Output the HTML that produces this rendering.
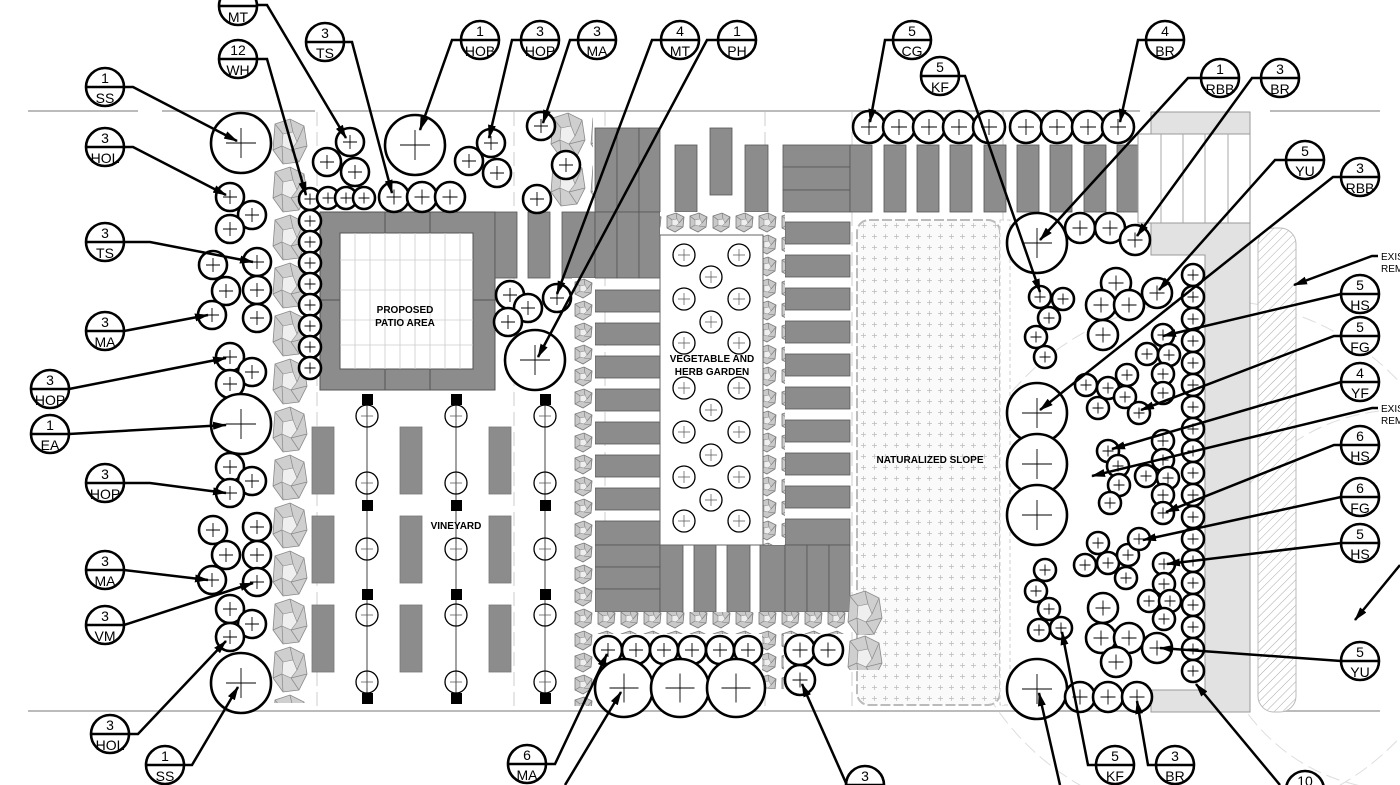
<!DOCTYPE html>
<html><head><meta charset="utf-8"><style>
html,body{margin:0;padding:0;background:#fff;width:1400px;height:785px;overflow:hidden}
svg{display:block;font-family:"Liberation Sans",Arial,sans-serif}
</style></head><body>
<svg width="1400" height="785" viewBox="0 0 1400 785" xmlns="http://www.w3.org/2000/svg">
<defs>
<g id="pl"><circle r="1" fill="#fff" stroke="#000" stroke-width="2.6" vector-effect="non-scaling-stroke"/><path d="M-0.5 0H0.5M0 -0.5V0.5" stroke="#000" stroke-width="0.9" vector-effect="non-scaling-stroke"/></g>
<g id="vc"><circle r="1" fill="none" stroke="#000" stroke-width="1.3" vector-effect="non-scaling-stroke"/><path d="M-0.55 0H0.55M0 -0.55V0.55" stroke="#555" stroke-width="0.7" vector-effect="non-scaling-stroke"/></g>
<marker id="ar" markerWidth="14" markerHeight="8" refX="13" refY="4" orient="auto" markerUnits="userSpaceOnUse"><path d="M0 0L14 4L0 8z" fill="#000"/></marker>
<pattern id="shr" x="572" y="212" width="23" height="22" patternUnits="userSpaceOnUse"><rect width="23" height="22" fill="#fff"/><polygon points="3,4 12,1 20,5 19,15 11,20 3,16" fill="#c9c9c9" stroke="#777" stroke-width="0.8"/><polygon points="8,8 13,7 15,11 12,14 8,13" fill="#eee" stroke="#888" stroke-width="0.5"/><path d="M3 4L8 8M12 1L13 7M20 5L15 11M19 15L12 14M3 16L8 13" stroke="#777" stroke-width="0.6"/></pattern>
<g id="blob"><polygon points="5,6 20,1 34,8 37,28 29,44 13,46 3,32" fill="#cfcfcf" stroke="#888" stroke-width="0.8"/><polygon points="13,16 23,14 27,24 21,32 12,28" fill="#efefef" stroke="#888" stroke-width="0.6"/><path d="M5 6L13 16M20 1L23 14M34 8L27 24M37 28L21 32M29 44L21 32M13 46L12 28M3 32L12 28" stroke="#888" stroke-width="0.7"/></g>
<pattern id="bigA" x="270" y="118" width="40" height="48" patternUnits="userSpaceOnUse"><use href="#blob"/></pattern>
<pattern id="bigB" x="548" y="112" width="40" height="48" patternUnits="userSpaceOnUse"><use href="#blob"/></pattern>
<pattern id="bigC" x="845" y="590" width="40" height="45" patternUnits="userSpaceOnUse"><use href="#blob"/></pattern>
<pattern id="dots" width="11" height="11" patternUnits="userSpaceOnUse"><rect width="11" height="11" fill="#fafafa"/><path d="M3 5.5H8M5.5 3V8" stroke="#bbb" stroke-width="0.7"/></pattern>
<pattern id="hat" width="6" height="6" patternUnits="userSpaceOnUse" patternTransform="rotate(45)"><rect width="6" height="6" fill="#fff"/><path d="M0 0V6" stroke="#aaa" stroke-width="1"/></pattern>
</defs>

<g stroke="#bbb" stroke-width="2">
<path d="M28 111H138M162 111H315M330 111H1140M1270 111H1380"/>
<path d="M28 711H1140M1270 711H1380"/>
</g>
<g stroke="#ccc" stroke-width="1" stroke-dasharray="14 6" fill="none">
<path d="M317 112V710M514 112V710M605 112V710M765 112V710M852 112V710M1003 112V710"/>
<circle cx="1210" cy="560" r="260" stroke="#ddd"/>
<circle cx="1400" cy="600" r="190" stroke="#ddd"/>
</g>

<rect x="270" y="118" width="40" height="585" fill="url(#bigA)"/>
<rect x="548" y="112" width="45" height="96" fill="url(#bigB)"/>

<rect x="320" y="212" width="175" height="178" fill="#8c8c8c" stroke="#555"/>
<rect x="340" y="233" width="133" height="136" fill="#fff" stroke="#555"/>
<g stroke="#ccc" stroke-width="0.8">
<path d="M355 233V369M370 233V369M385 233V369M400 233V369M415 233V369M430 233V369M445 233V369M460 233V369"/>
<path d="M340 260H473M340 290H473M340 320H473M340 345H473"/>
</g>
<path d="M385 212V233M430 212V233M385 369V390M430 369V390M320 300H340M473 300H495" stroke="#555"/>
<text x="405" y="313" font-size="10" font-weight="bold" text-anchor="middle">PROPOSED</text>
<text x="405" y="326" font-size="10" font-weight="bold" text-anchor="middle">PATIO AREA</text>

<g fill="#8c8c8c" stroke="#555" stroke-width="0.8">
<rect x="495" y="212" width="22" height="66"/><rect x="528" y="212" width="22" height="66"/><rect x="562" y="212" width="33" height="66"/>
<rect x="595" y="128" width="22" height="84"/><rect x="617" y="128" width="22" height="84"/><rect x="639" y="128" width="21" height="84"/>
<rect x="595" y="212" width="22" height="66"/><rect x="617" y="212" width="22" height="66"/><rect x="639" y="212" width="21" height="66"/>
<rect x="675" y="145" width="22" height="67"/><rect x="710" y="128" width="22" height="67"/><rect x="745" y="145" width="23" height="67"/>
<rect x="783" y="145" width="67" height="22"/><rect x="783" y="167" width="67" height="23"/><rect x="783" y="190" width="67" height="22"/>
<rect x="850" y="145" width="22" height="67"/><rect x="884" y="145" width="22" height="67"/><rect x="917" y="145" width="22" height="67"/><rect x="950" y="145" width="22" height="67"/><rect x="984" y="145" width="22" height="67"/><rect x="1017" y="145" width="22" height="67"/><rect x="1050" y="145" width="22" height="67"/><rect x="1084" y="145" width="22" height="67"/><rect x="1117" y="145" width="22" height="67"/>
<rect x="595" y="290" width="65" height="22"/><rect x="595" y="323" width="65" height="22"/><rect x="595" y="356" width="65" height="22"/><rect x="595" y="389" width="65" height="22"/><rect x="595" y="422" width="65" height="22"/><rect x="595" y="455" width="65" height="22"/><rect x="595" y="488" width="65" height="22"/><rect x="595" y="521" width="65" height="24"/>
<rect x="785" y="222" width="65" height="22"/><rect x="785" y="255" width="65" height="22"/><rect x="785" y="288" width="65" height="22"/><rect x="785" y="321" width="65" height="22"/><rect x="785" y="354" width="65" height="22"/><rect x="785" y="387" width="65" height="22"/><rect x="785" y="420" width="65" height="22"/><rect x="785" y="453" width="65" height="22"/><rect x="785" y="486" width="65" height="22"/><rect x="785" y="519" width="65" height="26"/>
<rect x="595" y="545" width="65" height="22"/><rect x="595" y="567" width="65" height="22"/><rect x="595" y="589" width="65" height="23"/>
<rect x="660" y="545" width="23" height="67"/><rect x="694" y="545" width="22" height="67"/><rect x="727" y="545" width="23" height="67"/><rect x="760" y="545" width="25" height="67"/><rect x="785" y="545" width="22" height="67"/><rect x="807" y="545" width="22" height="67"/><rect x="829" y="545" width="21" height="67"/>
</g>

<rect x="660" y="212" width="125" height="23" fill="url(#shr)"/>
<rect x="763" y="212" width="22" height="333" fill="url(#shr)"/>
<rect x="572" y="278" width="23" height="428" fill="url(#shr)"/>
<rect x="595" y="612" width="255" height="22" fill="url(#shr)"/>
<rect x="762" y="634" width="22" height="55" fill="url(#shr)"/>
<rect x="660" y="235" width="103" height="310" fill="#fff" stroke="#666"/>
<text x="712" y="362" font-size="10" font-weight="bold" text-anchor="middle">VEGETABLE AND</text>
<text x="712" y="375" font-size="10" font-weight="bold" text-anchor="middle">HERB GARDEN</text>
<g>
<use href="#vc" transform="translate(684,255) scale(11)"/><use href="#vc" transform="translate(739,255) scale(11)"/>
<use href="#vc" transform="translate(711,277) scale(11)"/>
<use href="#vc" transform="translate(684,299) scale(11)"/><use href="#vc" transform="translate(739,299) scale(11)"/>
<use href="#vc" transform="translate(711,322) scale(11)"/>
<use href="#vc" transform="translate(684,343) scale(11)"/><use href="#vc" transform="translate(739,343) scale(11)"/>
<use href="#vc" transform="translate(684,388) scale(11)"/><use href="#vc" transform="translate(739,388) scale(11)"/>
<use href="#vc" transform="translate(711,410) scale(11)"/>
<use href="#vc" transform="translate(684,432) scale(11)"/><use href="#vc" transform="translate(739,432) scale(11)"/>
<use href="#vc" transform="translate(711,455) scale(11)"/>
<use href="#vc" transform="translate(684,477) scale(11)"/><use href="#vc" transform="translate(739,477) scale(11)"/>
<use href="#vc" transform="translate(711,500) scale(11)"/>
<use href="#vc" transform="translate(684,521) scale(11)"/><use href="#vc" transform="translate(739,521) scale(11)"/>
</g>

<rect x="857" y="220" width="143" height="485" rx="12" fill="url(#dots)" stroke="#bbb" stroke-width="2" stroke-dasharray="10 3"/>
<rect x="845" y="590" width="40" height="80" fill="url(#bigC)"/>
<text x="930" y="463" font-size="10" font-weight="bold" text-anchor="middle">NATURALIZED SLOPE</text>

<g fill="#8c8c8c" stroke="#777" stroke-width="0.8">
<rect x="312" y="427" width="22" height="67"/><rect x="400" y="427" width="22" height="67"/><rect x="489" y="427" width="22" height="67"/>
<rect x="312" y="516" width="22" height="67"/><rect x="400" y="516" width="22" height="67"/><rect x="489" y="516" width="22" height="67"/>
<rect x="312" y="605" width="22" height="67"/><rect x="400" y="605" width="22" height="67"/><rect x="489" y="605" width="22" height="67"/>
</g>
<path d="M367 400V700M456 400V700M545 400V700" stroke="#444" stroke-width="1"/>
<g fill="#000">
<rect x="362" y="394" width="11" height="11"/><rect x="451" y="394" width="11" height="11"/><rect x="540" y="394" width="11" height="11"/>
<rect x="362" y="500" width="11" height="11"/><rect x="451" y="500" width="11" height="11"/><rect x="540" y="500" width="11" height="11"/>
<rect x="362" y="589" width="11" height="11"/><rect x="451" y="589" width="11" height="11"/><rect x="540" y="589" width="11" height="11"/>
<rect x="362" y="693" width="11" height="11"/><rect x="451" y="693" width="11" height="11"/><rect x="540" y="693" width="11" height="11"/>
</g>
<g>
<use href="#vc" transform="translate(367,416) scale(11)"/><use href="#vc" transform="translate(456,416) scale(11)"/><use href="#vc" transform="translate(545,416) scale(11)"/>
<use href="#vc" transform="translate(367,483) scale(11)"/><use href="#vc" transform="translate(456,483) scale(11)"/><use href="#vc" transform="translate(545,483) scale(11)"/>
<use href="#vc" transform="translate(367,549) scale(11)"/><use href="#vc" transform="translate(456,549) scale(11)"/><use href="#vc" transform="translate(545,549) scale(11)"/>
<use href="#vc" transform="translate(367,615) scale(11)"/><use href="#vc" transform="translate(456,615) scale(11)"/><use href="#vc" transform="translate(545,615) scale(11)"/>
<use href="#vc" transform="translate(367,682) scale(11)"/><use href="#vc" transform="translate(456,682) scale(11)"/><use href="#vc" transform="translate(545,682) scale(11)"/>
</g>
<text x="456" y="529" font-size="10" font-weight="bold" text-anchor="middle">VINEYARD</text>

<rect x="1151" y="112" width="99" height="22" fill="#e2e2e2" stroke="#999"/>
<rect x="1138" y="134" width="112" height="89" fill="#fff" stroke="#999"/>
<path d="M1161 134V223M1183 134V223M1205 134V223M1228 134V223" stroke="#aaa"/>
<path d="M1151 223H1250V712H1151V690H1205V255H1151Z" fill="#e2e2e2" stroke="#999"/>
<rect x="1258" y="228" width="38" height="484" rx="16" fill="url(#hat)" stroke="#bbb"/>
<rect x="1000" y="220" width="10" height="485" fill="#fff" stroke="#ccc" stroke-dasharray="4 3"/>

<g>
<use href="#pl" transform="translate(241,143) scale(30)"/>
<use href="#pl" transform="translate(230,197) scale(14)"/><use href="#pl" transform="translate(252,215) scale(14)"/><use href="#pl" transform="translate(230,229) scale(14)"/>
<use href="#pl" transform="translate(213,265) scale(14)"/><use href="#pl" transform="translate(257,262) scale(14)"/><use href="#pl" transform="translate(226,291) scale(14)"/><use href="#pl" transform="translate(257,290) scale(14)"/><use href="#pl" transform="translate(212,315) scale(14)"/><use href="#pl" transform="translate(257,318) scale(14)"/>
<use href="#pl" transform="translate(230,357) scale(14)"/><use href="#pl" transform="translate(252,372) scale(14)"/><use href="#pl" transform="translate(230,384) scale(14)"/>
<use href="#pl" transform="translate(241,424) scale(30)"/>
<use href="#pl" transform="translate(230,467) scale(14)"/><use href="#pl" transform="translate(252,481) scale(14)"/><use href="#pl" transform="translate(230,493) scale(14)"/>
<use href="#pl" transform="translate(213,530) scale(14)"/><use href="#pl" transform="translate(257,527) scale(14)"/><use href="#pl" transform="translate(226,555) scale(14)"/><use href="#pl" transform="translate(257,555) scale(14)"/><use href="#pl" transform="translate(212,580) scale(14)"/><use href="#pl" transform="translate(257,582) scale(14)"/>
<use href="#pl" transform="translate(230,609) scale(14)"/><use href="#pl" transform="translate(252,624) scale(14)"/><use href="#pl" transform="translate(230,637) scale(14)"/>
<use href="#pl" transform="translate(241,683) scale(30)"/>

<use href="#pl" transform="translate(310,199) scale(11)"/><use href="#pl" transform="translate(310,221) scale(11)"/><use href="#pl" transform="translate(310,242) scale(11)"/><use href="#pl" transform="translate(310,263) scale(11)"/><use href="#pl" transform="translate(310,284) scale(11)"/><use href="#pl" transform="translate(310,305) scale(11)"/><use href="#pl" transform="translate(310,326) scale(11)"/><use href="#pl" transform="translate(310,347) scale(11)"/><use href="#pl" transform="translate(310,368) scale(11)"/>
<use href="#pl" transform="translate(328,198) scale(11)"/><use href="#pl" transform="translate(346,198) scale(11)"/><use href="#pl" transform="translate(364,198) scale(11)"/>
<use href="#pl" transform="translate(350,142) scale(14)"/><use href="#pl" transform="translate(327,162) scale(14)"/><use href="#pl" transform="translate(355,172) scale(14)"/>
<use href="#pl" transform="translate(394,197) scale(15)"/><use href="#pl" transform="translate(422,197) scale(15)"/><use href="#pl" transform="translate(450,197) scale(15)"/>
<use href="#pl" transform="translate(415,145) scale(30)"/>
<use href="#pl" transform="translate(491,143) scale(14)"/><use href="#pl" transform="translate(469,161) scale(14)"/><use href="#pl" transform="translate(497,173) scale(14)"/>
<use href="#pl" transform="translate(541,126) scale(14)"/><use href="#pl" transform="translate(566,165) scale(14)"/><use href="#pl" transform="translate(537,199) scale(14)"/>
<use href="#pl" transform="translate(510,295) scale(14)"/><use href="#pl" transform="translate(528,308) scale(14)"/><use href="#pl" transform="translate(508,322) scale(14)"/><use href="#pl" transform="translate(557,298) scale(14)"/>
<use href="#pl" transform="translate(535,360) scale(30)"/>

<use href="#pl" transform="translate(608,650) scale(14)"/><use href="#pl" transform="translate(636,650) scale(14)"/><use href="#pl" transform="translate(664,650) scale(14)"/><use href="#pl" transform="translate(692,650) scale(14)"/><use href="#pl" transform="translate(720,650) scale(14)"/><use href="#pl" transform="translate(748,650) scale(14)"/>
<use href="#pl" transform="translate(624,688) scale(29)"/><use href="#pl" transform="translate(680,688) scale(29)"/><use href="#pl" transform="translate(736,688) scale(29)"/>
<use href="#pl" transform="translate(800,650) scale(15)"/><use href="#pl" transform="translate(828,650) scale(15)"/><use href="#pl" transform="translate(800,680) scale(15)"/>

<use href="#pl" transform="translate(869,127) scale(16)"/><use href="#pl" transform="translate(899,127) scale(16)"/><use href="#pl" transform="translate(929,127) scale(16)"/><use href="#pl" transform="translate(959,127) scale(16)"/><use href="#pl" transform="translate(989,127) scale(16)"/>
<use href="#pl" transform="translate(1026,127) scale(16)"/><use href="#pl" transform="translate(1057,127) scale(16)"/><use href="#pl" transform="translate(1088,127) scale(16)"/><use href="#pl" transform="translate(1118,127) scale(16)"/>

<use href="#pl" transform="translate(1037,243) scale(30)"/>
<use href="#pl" transform="translate(1080,228) scale(15)"/><use href="#pl" transform="translate(1110,228) scale(15)"/><use href="#pl" transform="translate(1135,240) scale(15)"/>
<use href="#pl" transform="translate(1040,297) scale(11)"/><use href="#pl" transform="translate(1063,299) scale(11)"/><use href="#pl" transform="translate(1049,318) scale(11)"/><use href="#pl" transform="translate(1036,337) scale(11)"/><use href="#pl" transform="translate(1045,357) scale(11)"/>
<use href="#pl" transform="translate(1116,283) scale(15)"/><use href="#pl" transform="translate(1101,305) scale(15)"/><use href="#pl" transform="translate(1129,305) scale(15)"/><use href="#pl" transform="translate(1103,335) scale(15)"/><use href="#pl" transform="translate(1157,293) scale(15)"/>

<use href="#pl" transform="translate(1193,275) scale(11)"/><use href="#pl" transform="translate(1193,297) scale(11)"/><use href="#pl" transform="translate(1193,319) scale(11)"/><use href="#pl" transform="translate(1193,341) scale(11)"/><use href="#pl" transform="translate(1193,363) scale(11)"/><use href="#pl" transform="translate(1193,385) scale(11)"/><use href="#pl" transform="translate(1193,407) scale(11)"/><use href="#pl" transform="translate(1193,429) scale(11)"/><use href="#pl" transform="translate(1193,451) scale(11)"/><use href="#pl" transform="translate(1193,473) scale(11)"/><use href="#pl" transform="translate(1193,495) scale(11)"/><use href="#pl" transform="translate(1193,517) scale(11)"/><use href="#pl" transform="translate(1193,539) scale(11)"/><use href="#pl" transform="translate(1193,561) scale(11)"/><use href="#pl" transform="translate(1193,583) scale(11)"/><use href="#pl" transform="translate(1193,605) scale(11)"/><use href="#pl" transform="translate(1193,627) scale(11)"/><use href="#pl" transform="translate(1193,649) scale(11)"/><use href="#pl" transform="translate(1193,671) scale(11)"/>

<use href="#pl" transform="translate(1163,335) scale(11)"/><use href="#pl" transform="translate(1147,354) scale(11)"/><use href="#pl" transform="translate(1169,355) scale(11)"/><use href="#pl" transform="translate(1163,374) scale(11)"/><use href="#pl" transform="translate(1163,393) scale(11)"/>
<use href="#pl" transform="translate(1086,385) scale(11)"/><use href="#pl" transform="translate(1108,388) scale(11)"/><use href="#pl" transform="translate(1127,375) scale(11)"/><use href="#pl" transform="translate(1098,408) scale(11)"/><use href="#pl" transform="translate(1125,397) scale(11)"/><use href="#pl" transform="translate(1139,413) scale(11)"/>
<use href="#pl" transform="translate(1037,413) scale(30)"/><use href="#pl" transform="translate(1037,464) scale(30)"/><use href="#pl" transform="translate(1037,515) scale(30)"/>
<use href="#pl" transform="translate(1108,451) scale(11)"/><use href="#pl" transform="translate(1118,466) scale(11)"/><use href="#pl" transform="translate(1119,485) scale(11)"/><use href="#pl" transform="translate(1110,503) scale(11)"/>
<use href="#pl" transform="translate(1163,441) scale(11)"/><use href="#pl" transform="translate(1163,460) scale(11)"/><use href="#pl" transform="translate(1146,476) scale(11)"/><use href="#pl" transform="translate(1168,478) scale(11)"/><use href="#pl" transform="translate(1163,495) scale(11)"/><use href="#pl" transform="translate(1163,513) scale(11)"/>
<use href="#pl" transform="translate(1098,543) scale(11)"/><use href="#pl" transform="translate(1108,563) scale(11)"/><use href="#pl" transform="translate(1128,555) scale(11)"/><use href="#pl" transform="translate(1085,565) scale(11)"/><use href="#pl" transform="translate(1126,578) scale(11)"/><use href="#pl" transform="translate(1139,539) scale(11)"/>
<use href="#pl" transform="translate(1164,564) scale(11)"/><use href="#pl" transform="translate(1164,584) scale(11)"/><use href="#pl" transform="translate(1149,601) scale(11)"/><use href="#pl" transform="translate(1170,601) scale(11)"/><use href="#pl" transform="translate(1164,619) scale(11)"/>
<use href="#pl" transform="translate(1045,570) scale(11)"/><use href="#pl" transform="translate(1036,591) scale(11)"/><use href="#pl" transform="translate(1049,609) scale(11)"/><use href="#pl" transform="translate(1039,630) scale(11)"/><use href="#pl" transform="translate(1061,628) scale(11)"/>
<use href="#pl" transform="translate(1103,608) scale(15)"/><use href="#pl" transform="translate(1101,638) scale(15)"/><use href="#pl" transform="translate(1129,638) scale(15)"/><use href="#pl" transform="translate(1116,662) scale(15)"/><use href="#pl" transform="translate(1157,648) scale(15)"/>
<use href="#pl" transform="translate(1037,689) scale(30)"/>
<use href="#pl" transform="translate(1080,697) scale(15)"/><use href="#pl" transform="translate(1108,697) scale(15)"/><use href="#pl" transform="translate(1137,697) scale(15)"/>
</g>

<g fill="none" stroke="#000" stroke-width="2.5" marker-end="url(#ar)">
<path d="M124 87H133L237 141"/>
<path d="M124 147H133L226 195"/>
<path d="M124 242H150L253 262"/>
<path d="M124 331L208 315"/>
<path d="M69 389L226 358"/>
<path d="M69 434L226 425"/>
<path d="M124 483H150L226 493"/>
<path d="M124 570L208 580"/>
<path d="M124 625L253 583"/>
<path d="M129 734H138L226 641"/>
<path d="M184 765H192L238 687"/>
<path d="M257 5H267L346 138"/>
<path d="M257 59H267L306 195"/>
<path d="M344 42H352L392 193"/>
<path d="M461 40H452L420 130"/>
<path d="M521 40H512L489 138"/>
<path d="M578 40H570L543 123"/>
<path d="M661 40H652L557 294"/>
<path d="M718 40H707L538 357"/>
<path d="M893 40H885L870 122"/>
<path d="M959 76H965L1040 292"/>
<path d="M1146 40H1138L1120 122"/>
<path d="M1201 78H1188L1040 240"/>
<path d="M1261 78H1252L1137 236"/>
<path d="M1286 160H1275L1159 290"/>
<path d="M1341 177H1333L1040 410"/>
<path d="M1378 256H1372L1294 285"/>
<path d="M1341 294L1163 336"/>
<path d="M1341 336H1334L1141 410"/>
<path d="M1341 382L1112 449"/>
<path d="M1378 408H1372L1092 476"/>
<path d="M1341 445H1334L1166 512"/>
<path d="M1341 497L1143 540"/>
<path d="M1341 543L1167 564"/>
<path d="M1341 661L1160 648"/>
<path d="M1400 565L1355 620"/>
<path d="M1096 765H1088L1062 632"/>
<path d="M1156 765H1148L1137 701"/>
<path d="M1280 785L1196 684"/>
<path d="M1060 785L1039 693"/>
<path d="M546 764H555L607 654"/>
<path d="M565 785L621 692"/>
<path d="M846 783L802 684"/>
</g>

<g font-size="14" text-anchor="middle">
<g fill="#fff" stroke="#000" stroke-width="2.6">
<circle cx="238" cy="6" r="19"/><circle cx="238" cy="59" r="19"/><circle cx="105" cy="87" r="19"/><circle cx="325" cy="42" r="19"/>
<circle cx="480" cy="40" r="19"/><circle cx="540" cy="40" r="19"/><circle cx="597" cy="40" r="19"/><circle cx="680" cy="40" r="19"/><circle cx="737" cy="40" r="19"/>
<circle cx="105" cy="147" r="19"/><circle cx="105" cy="242" r="19"/><circle cx="105" cy="331" r="19"/><circle cx="50" cy="389" r="19"/><circle cx="50" cy="434" r="19"/><circle cx="105" cy="483" r="19"/><circle cx="105" cy="570" r="19"/><circle cx="105" cy="625" r="19"/><circle cx="110" cy="734" r="19"/><circle cx="165" cy="765" r="19"/>
<circle cx="527" cy="764" r="19"/><circle cx="865" cy="785" r="19"/>
<circle cx="912" cy="40" r="19"/><circle cx="940" cy="76" r="19"/><circle cx="1165" cy="40" r="19"/><circle cx="1220" cy="78" r="19"/><circle cx="1280" cy="78" r="19"/><circle cx="1305" cy="160" r="19"/><circle cx="1360" cy="177" r="19"/>
<circle cx="1360" cy="294" r="19"/><circle cx="1360" cy="336" r="19"/><circle cx="1360" cy="382" r="19"/><circle cx="1360" cy="445" r="19"/><circle cx="1360" cy="497" r="19"/><circle cx="1360" cy="543" r="19"/><circle cx="1360" cy="661" r="19"/>
<circle cx="1115" cy="765" r="19"/><circle cx="1175" cy="765" r="19"/><circle cx="1305" cy="790" r="19"/>
</g>
<g stroke="#000" stroke-width="2.5">
<path d="M219 6H257M219 59H257M86 87H124M306 42H344M461 40H499M521 40H559M578 40H616M661 40H699M718 40H756"/>
<path d="M86 147H124M86 242H124M86 331H124M31 389H69M31 434H69M86 483H124M86 570H124M86 625H124M91 734H129M146 765H184M508 764H546M846 785H884"/>
<path d="M893 40H931M921 76H959M1146 40H1184M1201 78H1239M1261 78H1299M1286 160H1324M1341 177H1379"/>
<path d="M1341 294H1379M1341 336H1379M1341 382H1379M1341 445H1379M1341 497H1379M1341 543H1379M1341 661H1379M1096 765H1134M1156 765H1194M1286 790H1324"/>
</g>
<text x="238" y="22">MT</text>
<text x="238" y="55">12</text><text x="238" y="75">WH</text>
<text x="105" y="83">1</text><text x="105" y="103">SS</text>
<text x="325" y="38">3</text><text x="325" y="58">TS</text>
<text x="480" y="36">1</text><text x="480" y="56">HOB</text>
<text x="540" y="36">3</text><text x="540" y="56">HOP</text>
<text x="597" y="36">3</text><text x="597" y="56">MA</text>
<text x="680" y="36">4</text><text x="680" y="56">MT</text>
<text x="737" y="36">1</text><text x="737" y="56">PH</text>
<text x="105" y="143">3</text><text x="105" y="163">HOL</text>
<text x="105" y="238">3</text><text x="105" y="258">TS</text>
<text x="105" y="327">3</text><text x="105" y="347">MA</text>
<text x="50" y="385">3</text><text x="50" y="405">HOP</text>
<text x="50" y="430">1</text><text x="50" y="450">EA</text>
<text x="105" y="479">3</text><text x="105" y="499">HOP</text>
<text x="105" y="566">3</text><text x="105" y="586">MA</text>
<text x="105" y="621">3</text><text x="105" y="641">VM</text>
<text x="110" y="730">3</text><text x="110" y="750">HOL</text>
<text x="165" y="761">1</text><text x="165" y="781">SS</text>
<text x="527" y="760">6</text><text x="527" y="780">MA</text>
<text x="865" y="781">3</text>
<text x="912" y="36">5</text><text x="912" y="56">CG</text>
<text x="940" y="72">5</text><text x="940" y="92">KF</text>
<text x="1165" y="36">4</text><text x="1165" y="56">BR</text>
<text x="1220" y="74">1</text><text x="1220" y="94">RBB</text>
<text x="1280" y="74">3</text><text x="1280" y="94">BR</text>
<text x="1305" y="156">5</text><text x="1305" y="176">YU</text>
<text x="1360" y="173">3</text><text x="1360" y="193">RBB</text>
<text x="1360" y="290">5</text><text x="1360" y="310">HS</text>
<text x="1360" y="332">5</text><text x="1360" y="352">FG</text>
<text x="1360" y="378">4</text><text x="1360" y="398">YF</text>
<text x="1360" y="441">6</text><text x="1360" y="461">HS</text>
<text x="1360" y="493">6</text><text x="1360" y="513">FG</text>
<text x="1360" y="539">5</text><text x="1360" y="559">HS</text>
<text x="1360" y="657">5</text><text x="1360" y="677">YU</text>
<text x="1115" y="761">5</text><text x="1115" y="781">KF</text>
<text x="1175" y="761">3</text><text x="1175" y="781">BR</text>
<text x="1305" y="786">10</text>
</g>
<g font-size="10">
<text x="1381" y="260">EXIS</text><text x="1381" y="272">REM</text>
<text x="1381" y="412">EXIS</text><text x="1381" y="424">REM</text>
</g>
</svg>
</body></html>
